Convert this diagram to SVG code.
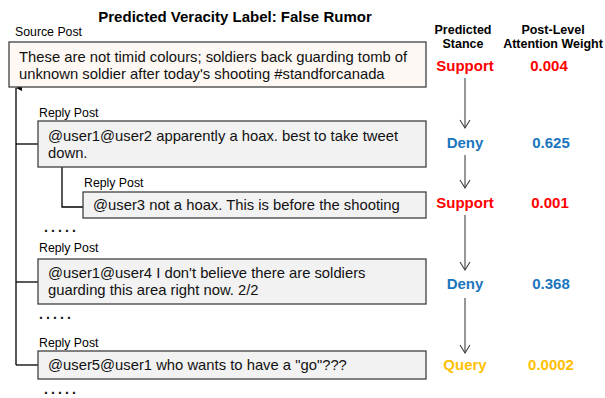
<svg xmlns="http://www.w3.org/2000/svg" width="605" height="398" viewBox="0 0 605 398">
<style>
text{font-family:"Liberation Sans",Arial,sans-serif;}
.title{font-size:15px;font-weight:bold;fill:#000;}
.lbl{font-size:12.3px;fill:#000;}
.body{font-size:14.8px;fill:#111;}
.box{fill:#f2f2f2;stroke:#404040;stroke-width:1.3;}
.src{fill:#fdf8f3;stroke:#404040;stroke-width:1.3;}
.hdr{font-size:12.5px;font-weight:bold;fill:#000;text-anchor:middle;}
.st{font-size:15px;font-weight:bold;text-anchor:middle;}
.dots{font-size:14px;font-weight:bold;letter-spacing:3.1px;fill:#111;}
.tree{fill:none;stroke:#000;stroke-width:1.3;}
.flow{fill:none;stroke:#404040;stroke-width:1.1;}
.red{fill:#ff0000;}
.blue{fill:#1b75bc;}
.yel{fill:#ffc000;}
</style>
<defs>
<marker id="up" viewBox="0 0 10 10" refX="5" refY="0" markerWidth="6" markerHeight="6" markerUnits="userSpaceOnUse" orient="auto-start-reverse">
<path d="M0,10 L5,0 L10,10 Z" fill="#000"/>
</marker>
<marker id="vee" viewBox="0 0 12 12" refX="10" refY="6" markerWidth="12" markerHeight="12" markerUnits="userSpaceOnUse" orient="auto">
<path d="M2,1 L10,6 L2,11" fill="none" stroke="#404040" stroke-width="1.1"/>
</marker>
</defs>

<text class="title" x="235" y="22" text-anchor="middle">Predicted Veracity Label: False Rumor</text>

<g id="connectors">
<path class="tree" d="M16,365 L16,88" marker-end="url(#up)"/>
<path class="tree" d="M16,144 L38,144"/>
<path class="tree" d="M16,282 L38,282"/>
<path class="tree" d="M16,365 L38,365"/>
<path class="tree" d="M62,167 L62,207 L83,207"/>
<path class="flow" d="M465,78 L465,128" marker-end="url(#vee)"/>
<path class="flow" d="M465,155 L465,188" marker-end="url(#vee)"/>
<path class="flow" d="M465,215 L465,270" marker-end="url(#vee)"/>
<path class="flow" d="M465,298 L465,353" marker-end="url(#vee)"/>
</g>

<g id="source">
<text class="lbl" x="15" y="36">Source Post</text>
<rect class="src" x="9" y="42" width="417" height="45"/>
<text class="body" x="19" y="62">These are not timid colours; soldiers back guarding tomb of</text>
<text class="body" x="19" y="79">unknown soldier after today's shooting #standforcanada</text>
</g>

<g id="reply1">
<text class="lbl" x="39" y="117">Reply Post</text>
<rect class="box" x="38" y="121" width="388" height="46"/>
<text class="body" x="48" y="141">@user1@user2 apparently a hoax. best to take tweet</text>
<text class="body" x="48" y="158">down.</text>
</g>

<g id="reply2">
<text class="lbl" x="84" y="187">Reply Post</text>
<rect class="box" x="83" y="192" width="343" height="26"/>
<text class="body" x="93" y="210">@user3 not a hoax. This is before the shooting</text>
</g>

<text class="dots" x="44" y="232">.....</text>

<g id="reply3">
<text class="lbl" x="39" y="252">Reply Post</text>
<rect class="box" x="38" y="259" width="388" height="45"/>
<text class="body" x="48" y="278">@user1@user4 I don't believe there are soldiers</text>
<text class="body" x="48" y="295">guarding this area right now. 2/2</text>
</g>

<text class="dots" x="39" y="319">.....</text>

<g id="reply4">
<text class="lbl" x="39" y="347">Reply Post</text>
<rect class="box" x="38" y="351" width="388" height="28"/>
<text class="body" x="48" y="370">@user5@user1 who wants to have a "go"???</text>
</g>

<text class="dots" x="44" y="394">.....</text>

<g id="headers">
<text class="hdr" x="463" y="34">Predicted</text>
<text class="hdr" x="463" y="48">Stance</text>
<text class="hdr" x="553" y="34">Post-Level</text>
<text class="hdr" x="553" y="48">Attention Weight</text>
</g>

<g id="stance1"><text class="st red" x="465" y="71">Support</text><text class="st red" x="549" y="71">0.004</text></g>
<g id="stance2"><text class="st blue" x="465" y="148">Deny</text><text class="st blue" x="551" y="148">0.625</text></g>
<g id="stance3"><text class="st red" x="465" y="208">Support</text><text class="st red" x="550" y="208">0.001</text></g>
<g id="stance4"><text class="st blue" x="465" y="289">Deny</text><text class="st blue" x="551" y="289">0.368</text></g>
<g id="stance5"><text class="st yel" x="465" y="370">Query</text><text class="st yel" x="551" y="370">0.0002</text></g>
</svg>
